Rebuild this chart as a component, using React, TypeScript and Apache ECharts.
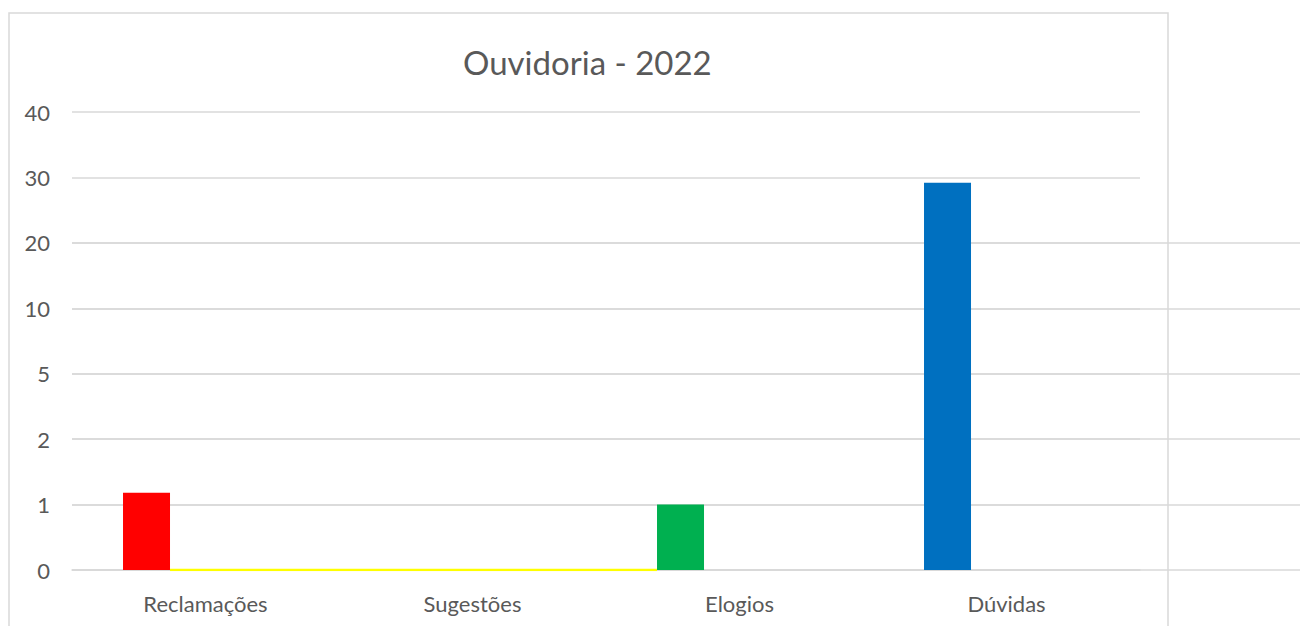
import React, { useEffect, useRef } from "react";
import * as echarts from "echarts";

const title = "Ouvidoria - 2022";
const categories = ["Reclamações", "Sugestões", "Elogios", "Dúvidas"];
const values = [1.18, 0, 1, 29.2];
const barColors = ["#ff0000", "#ffc000", "#00b050", "#0070c0"];
const yTickLabels = ["0", "1", "2", "5", "10", "20", "30", "40"];
const yTickValues = [0, 1, 2, 5, 10, 20, 30, 40];
// yellow baseline segment (in category units along x), value 0
const yellowLineX = [0.367, 2.191];
const yellowLineY = [0, 0];

function toIndex(v: number): number {
  for (let i = 0; i < yTickValues.length - 1; i++) {
    const a = yTickValues[i];
    const b = yTickValues[i + 1];
    if (v >= a && v <= b) return i + (v - a) / (b - a);
  }
  return yTickValues.length - 1;
}

export default function App() {
  const ref = useRef<HTMLDivElement>(null);
  useEffect(() => {
    document.body.style.margin = "0";
    const chart = echarts.init(ref.current!, null, { renderer: "svg" });
    const font = "Lato, 'Liberation Sans', sans-serif";
    const grid = "#d9d9d9";
    chart.setOption({
      animation: false,
      backgroundColor: "#ffffff",
      title: {
        text: title,
        left: 458,
        top: 40,
        textStyle: { fontFamily: font, fontSize: 33, fontWeight: "normal", color: "#595959" },
      },
      graphic: [
        {
          type: "rect",
          z: -10,
          silent: true,
          shape: { x: 9, y: 13, width: 1159, height: 700 },
          style: { fill: "none", stroke: grid, lineWidth: 1.5 },
        },
      ],
      grid: [
        { left: 72, right: 160, top: 112, bottom: 56 },
        { left: 72, right: 0, top: 243, bottom: 56 },
      ],
      xAxis: [
        {
          type: "category",
          gridIndex: 0,
          data: categories,
          axisLine: { show: true, lineStyle: { color: grid, width: 1.5 } },
          axisTick: { show: false },
          axisLabel: { fontFamily: font, fontSize: 22, color: "#595959", margin: 22 },
        },
        { type: "value", gridIndex: 0, min: 0, max: 4, show: false },
        { type: "value", gridIndex: 1, min: 0, max: 1, show: false },
      ],
      yAxis: [
        {
          type: "value",
          gridIndex: 0,
          min: 0,
          max: 7,
          interval: 1,
          axisLine: { show: false },
          axisTick: { show: false },
          splitLine: { show: true, lineStyle: { color: grid, width: 1.5 } },
          axisLabel: {
            fontFamily: font,
            fontSize: 22,
            color: "#595959",
            margin: 22,
            formatter: (v: number) => yTickLabels[Math.round(v)] ?? "",
          },
        },
        {
          type: "value",
          gridIndex: 1,
          min: 0,
          max: 5,
          interval: 1,
          axisLine: { show: false },
          axisTick: { show: false },
          axisLabel: { show: false },
          splitLine: { show: true, lineStyle: { color: grid, width: 1.5 } },
        },
      ],
      series: [
        {
          type: "bar",
          xAxisIndex: 0,
          yAxisIndex: 0,
          barWidth: 47,
          barGap: "151%",
          data: values.map((v, i) => ({ value: toIndex(v), itemStyle: { color: barColors[i] } })),
        },
        {
          type: "bar",
          xAxisIndex: 0,
          yAxisIndex: 0,
          barWidth: 47,
          data: values.map(() => null),
        },
        {
          type: "line",
          xAxisIndex: 1,
          yAxisIndex: 0,
          symbol: "none",
          lineStyle: { color: "#ffff00", width: 2.5 },
          data: yellowLineX.map((x, i) => [x, yellowLineY[i]]),
          z: 5,
        },
      ],
    });
    return () => chart.dispose();
  }, []);
  return <div ref={ref} style={{ width: 1300, height: 626 }} />;
}
